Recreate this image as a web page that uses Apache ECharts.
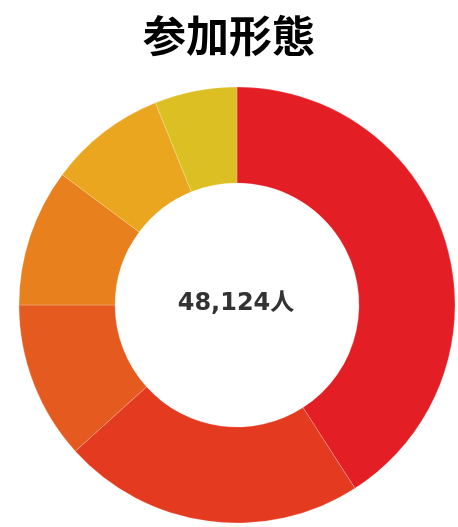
<!DOCTYPE html>
<html>
<head>
<meta charset="utf-8">
<script src="https://cdn.jsdelivr.net/npm/echarts@6/dist/echarts.min.js"></script>
<style>
  html, body { margin: 0; padding: 0; background: #fff; }
  #chart { width: 458px; height: 527px; }
</style>
</head>
<body>
<div id="chart"></div>
<script>
// Participation breakdown (people per category)
const categories = ['区分1', '区分2', '区分3', '区分4', '区分5', '区分6'];
const counts = [19683, 10780, 5630, 4909, 4187, 2935];
const colors = ['#E31E24', '#E43A20', '#E55A1E', '#E8801D', '#E9A61E', '#DBBF23'];
const titleText = '参加形態';
const unit = '人';

const total = counts.reduce((a, b) => a + b, 0);
const chart = echarts.init(document.getElementById('chart'));

chart.setOption({
  animation: false,
  title: {
    text: titleText,
    left: 'center',
    top: 9,
    textStyle: {
      fontFamily: 'Noto Sans CJK JP',
      fontWeight: 'bold',
      fontSize: 43,
      color: '#000'
    }
  },
  graphic: [{
    type: 'text',
    x: 236,
    y: 304,
    style: {
      text: total.toLocaleString('en-US') + unit,
      font: 'bold 24px "DejaVu Sans", "Noto Sans CJK JP"',
      fill: '#333',
      align: 'center',
      verticalAlign: 'middle'
    }
  }],
  series: [{
    type: 'pie',
    center: [237, 305],
    radius: [122, 218],
    startAngle: 90,
    clockwise: true,
    label: { show: false },
    labelLine: { show: false },
    emphasis: { disabled: true },
    itemStyle: { borderColor: 'rgba(255,255,255,0.35)', borderWidth: 0.6 },
    data: categories.map((name, i) => ({
      name: name,
      value: counts[i],
      itemStyle: { color: colors[i] }
    }))
  }]
});
</script>
</body>
</html>
